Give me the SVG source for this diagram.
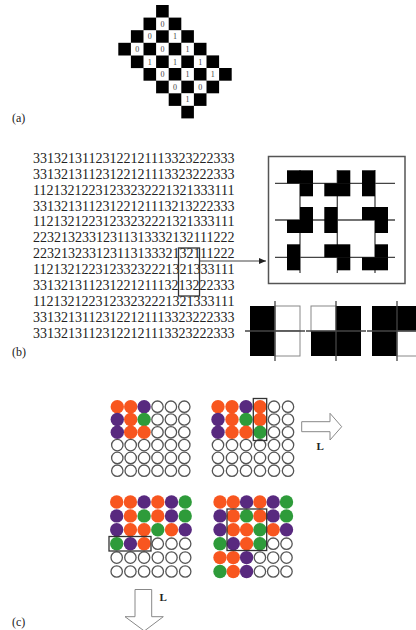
<svg xmlns="http://www.w3.org/2000/svg" width="416" height="630" viewBox="0 0 416 630">
<style>
.lbl{font-family:"Liberation Serif",serif;font-size:12px;fill:#222}
.bit{font-family:"Liberation Serif",serif;font-size:8px;fill:#444;text-anchor:middle}
.seq{font-family:"Liberation Serif",serif;font-size:14px;fill:#222}
.blk{fill:#000}
.wc{fill:#fff}
.ln{stroke:#444;stroke-width:1.3;fill:none}
.frame{stroke:#555;stroke-width:1.5;fill:#fff}
.wq{fill:#fff;stroke:#888;stroke-width:1}
.o{fill:#F8561F}
.p{fill:#58297F}
.g{fill:#2E9B3A}
.e{fill:#fff;stroke:#555;stroke-width:1.3}
.sel{fill:none;stroke:#333;stroke-width:1.3}
.barrow{fill:#fff;stroke:#888;stroke-width:1}
.L{font-family:"Liberation Serif",serif;font-size:11px;font-weight:bold;fill:#222}
</style>
<defs>
<marker id="ah" markerWidth="8" markerHeight="8" refX="7" refY="4" orient="auto" markerUnits="userSpaceOnUse">
<path d="M0,1 L7,4 L0,7 Z" fill="#222"/>
</marker>
<circle id="co" r="6.7" class="o"/>
<circle id="cp" r="6.7" class="p"/>
<circle id="cg" r="6.7" class="g"/>
<circle id="ce" r="5.7" class="e"/>
</defs>

<!-- panel (a) -->
<g id="panel-a">
<g class="blk">
<rect x="156.1" y="5" width="12.6" height="12.7"/>
<rect x="143.5" y="17.6" width="37.8" height="12.7"/>
<rect x="130.9" y="30.2" width="63" height="12.7"/>
<rect x="118.3" y="42.8" width="88.2" height="12.7"/>
<rect x="130.9" y="55.4" width="88.2" height="12.7"/>
<rect x="143.5" y="68" width="88.2" height="12.7"/>
<rect x="156.1" y="80.6" width="63" height="12.7"/>
<rect x="168.7" y="93.2" width="37.8" height="12.7"/>
<rect x="181.3" y="105.8" width="12.6" height="12.6"/>
</g>
<g class="wc">
<rect x="156.1" y="17.6" width="12.6" height="12.6"/>
<rect x="143.5" y="30.2" width="12.6" height="12.6"/>
<rect x="168.7" y="30.2" width="12.6" height="12.6"/>
<rect x="130.9" y="42.8" width="12.6" height="12.6"/>
<rect x="156.1" y="42.8" width="12.6" height="12.6"/>
<rect x="181.3" y="42.8" width="12.6" height="12.6"/>
<rect x="143.5" y="55.4" width="12.6" height="12.6"/>
<rect x="168.7" y="55.4" width="12.6" height="12.6"/>
<rect x="193.9" y="55.4" width="12.6" height="12.6"/>
<rect x="156.1" y="68" width="12.6" height="12.6"/>
<rect x="181.3" y="68" width="12.6" height="12.6"/>
<rect x="206.5" y="68" width="12.6" height="12.6"/>
<rect x="168.7" y="80.6" width="12.6" height="12.6"/>
<rect x="193.9" y="80.6" width="12.6" height="12.6"/>
<rect x="181.3" y="93.2" width="12.6" height="12.6"/>
</g>
<g>
<text class="bit" x="162.4" y="26.8">0</text>
<text class="bit" x="149.8" y="39.4">0</text>
<text class="bit" x="175" y="39.4">1</text>
<text class="bit" x="137.2" y="52">0</text>
<text class="bit" x="162.4" y="52">0</text>
<text class="bit" x="187.6" y="52">1</text>
<text class="bit" x="149.8" y="64.6">1</text>
<text class="bit" x="175" y="64.6">1</text>
<text class="bit" x="200.2" y="64.6">1</text>
<text class="bit" x="162.4" y="77.2">0</text>
<text class="bit" x="187.6" y="77.2">1</text>
<text class="bit" x="212.8" y="77.2">1</text>
<text class="bit" x="175" y="89.8">0</text>
<text class="bit" x="200.2" y="89.8">0</text>
<text class="bit" x="187.6" y="102.4">1</text>
</g>
<text class="lbl" x="12" y="122">(a)</text>
</g>

<!-- panel (b) -->
<g id="panel-b-text">
<text class="seq" x="33" y="162.8">33132131123122121113323222333</text>
<text class="seq" x="33" y="178.7">33132131123122121113323222333</text>
<text class="seq" x="33" y="194.6">11213212231233232221321333111</text>
<text class="seq" x="33" y="210.5">33132131123122121113213222333</text>
<text class="seq" x="33" y="226.4">11213212231233232221321333111</text>
<text class="seq" x="33" y="242.3">22321323312311313332132111222</text>
<text class="seq" x="33" y="258.2">22321323312311313332132111222</text>
<text class="seq" x="33" y="274.1">11213212231233232221321333111</text>
<text class="seq" x="33" y="290">33132131123122121113213222333</text>
<text class="seq" x="33" y="305.9">11213212231233232221321333111</text>
<text class="seq" x="33" y="321.8">33132131123122121113323222333</text>
<text class="seq" x="33" y="337.7">33132131123122121113323222333</text>
<rect class="sel" x="178.5" y="248" width="21" height="48"/>
</g>

<g id="connectors">
<line x1="199.5" y1="261" x2="266" y2="261" stroke="#444" stroke-width="1.2" marker-end="url(#ah)"/>
</g>

<g id="tiling-box">
<rect class="frame" x="268.5" y="156.5" width="136.5" height="127"/>
<g class="ln">
<line x1="275" y1="183.3" x2="395" y2="183.3"/>
<line x1="275" y1="220" x2="395" y2="220"/>
<line x1="275" y1="257.3" x2="395" y2="257.3"/>
<line x1="300" y1="170" x2="300" y2="273"/>
<line x1="337.3" y1="170" x2="337.3" y2="273"/>
<line x1="375" y1="170" x2="375" y2="273"/>
</g>
<g class="blk">
<rect x="287" y="170.3" width="26" height="13"/><rect x="300" y="183.3" width="13" height="13"/>
<rect x="337.3" y="170.3" width="13" height="13"/><rect x="324.3" y="183.3" width="26" height="13"/>
<rect x="362" y="170.3" width="13" height="26"/>
<rect x="300" y="207" width="13" height="13"/><rect x="287" y="220" width="26" height="13"/>
<rect x="324.3" y="207" width="13" height="26"/>
<rect x="362" y="207" width="26" height="13"/><rect x="375" y="220" width="13" height="13"/>
<rect x="287" y="244.3" width="13" height="26"/>
<rect x="324.3" y="244.3" width="26" height="13"/><rect x="337.3" y="257.3" width="13" height="13"/>
<rect x="375" y="244.3" width="13" height="13"/><rect x="362" y="257.3" width="26" height="13"/>
</g>
</g>

<g id="tile-1">
<rect class="blk" x="250" y="306" width="25" height="50"/>
<rect class="wq" x="275" y="306" width="25" height="25"/>
<rect class="wq" x="275" y="331" width="25" height="25"/>
<line class="ln" x1="245" y1="331" x2="305" y2="331"/>
<line class="ln" x1="275" y1="301" x2="275" y2="361"/>
</g>
<g id="tile-2">
<rect class="wq" x="311" y="306" width="25" height="25"/>
<rect class="blk" x="336" y="306" width="25" height="25"/>
<rect class="blk" x="311" y="331" width="50" height="25"/>
<line class="ln" x1="306" y1="331" x2="366" y2="331"/>
<line class="ln" x1="336" y1="301" x2="336" y2="361"/>
</g>
<g id="tile-3">
<rect class="blk" x="372" y="306" width="50" height="25"/>
<rect class="blk" x="372" y="331" width="25" height="25"/>
<rect class="wq" x="397" y="331" width="25" height="25"/>
<line class="ln" x1="367" y1="331" x2="416" y2="331"/>
<line class="ln" x1="397" y1="301" x2="397" y2="361"/>
</g>
<text class="lbl" x="12" y="356">(b)</text>

<!-- panel (c) -->
<g id="grid-1">
<use href="#co" x="117.3" y="406.7"/><use href="#co" x="130.7" y="406.7"/><use href="#cp" x="144.1" y="406.7"/><use href="#ce" x="157.5" y="406.7"/><use href="#ce" x="170.9" y="406.7"/><use href="#ce" x="184.3" y="406.7"/>
<use href="#cp" x="117.3" y="419.5"/><use href="#co" x="130.7" y="419.5"/><use href="#cg" x="144.1" y="419.5"/><use href="#ce" x="157.5" y="419.5"/><use href="#ce" x="170.9" y="419.5"/><use href="#ce" x="184.3" y="419.5"/>
<use href="#cp" x="117.3" y="432.3"/><use href="#co" x="130.7" y="432.3"/><use href="#co" x="144.1" y="432.3"/><use href="#ce" x="157.5" y="432.3"/><use href="#ce" x="170.9" y="432.3"/><use href="#ce" x="184.3" y="432.3"/>
<use href="#ce" x="117.3" y="445.1"/><use href="#ce" x="130.7" y="445.1"/><use href="#ce" x="144.1" y="445.1"/><use href="#ce" x="157.5" y="445.1"/><use href="#ce" x="170.9" y="445.1"/><use href="#ce" x="184.3" y="445.1"/>
<use href="#ce" x="117.3" y="457.9"/><use href="#ce" x="130.7" y="457.9"/><use href="#ce" x="144.1" y="457.9"/><use href="#ce" x="157.5" y="457.9"/><use href="#ce" x="170.9" y="457.9"/><use href="#ce" x="184.3" y="457.9"/>
<use href="#ce" x="117.3" y="470.7"/><use href="#ce" x="130.7" y="470.7"/><use href="#ce" x="144.1" y="470.7"/><use href="#ce" x="157.5" y="470.7"/><use href="#ce" x="170.9" y="470.7"/><use href="#ce" x="184.3" y="470.7"/>
</g>

<g id="grid-2">
<use href="#co" x="218" y="406.7"/><use href="#co" x="232" y="406.7"/><use href="#cp" x="246" y="406.7"/><use href="#co" x="260" y="406.7"/><use href="#ce" x="274" y="406.7"/><use href="#ce" x="288" y="406.7"/>
<use href="#cp" x="218" y="419.5"/><use href="#co" x="232" y="419.5"/><use href="#cg" x="246" y="419.5"/><use href="#co" x="260" y="419.5"/><use href="#ce" x="274" y="419.5"/><use href="#ce" x="288" y="419.5"/>
<use href="#cp" x="218" y="432.3"/><use href="#co" x="232" y="432.3"/><use href="#co" x="246" y="432.3"/><use href="#cg" x="260" y="432.3"/><use href="#ce" x="274" y="432.3"/><use href="#ce" x="288" y="432.3"/>
<use href="#ce" x="218" y="445.1"/><use href="#ce" x="232" y="445.1"/><use href="#ce" x="246" y="445.1"/><use href="#ce" x="260" y="445.1"/><use href="#ce" x="274" y="445.1"/><use href="#ce" x="288" y="445.1"/>
<use href="#ce" x="218" y="457.9"/><use href="#ce" x="232" y="457.9"/><use href="#ce" x="246" y="457.9"/><use href="#ce" x="260" y="457.9"/><use href="#ce" x="274" y="457.9"/><use href="#ce" x="288" y="457.9"/>
<use href="#ce" x="218" y="470.7"/><use href="#ce" x="232" y="470.7"/><use href="#ce" x="246" y="470.7"/><use href="#ce" x="260" y="470.7"/><use href="#ce" x="274" y="470.7"/><use href="#ce" x="288" y="470.7"/>
<rect class="sel" x="253.3" y="398.5" width="13.4" height="42"/>
</g>

<g id="arrow-right">
<path class="barrow" d="M301.7,421.7 H330 V413.3 L341.7,426.7 L330,440 V431.7 H301.7 Z"/>
<text class="L" x="316.5" y="450">L</text>
</g>

<g id="grid-3">
<use href="#co" x="116.7" y="502"/><use href="#co" x="130.4" y="502"/><use href="#cp" x="144.1" y="502"/><use href="#co" x="157.8" y="502"/><use href="#cp" x="171.5" y="502"/><use href="#cg" x="185.2" y="502"/>
<use href="#cp" x="116.7" y="515.9"/><use href="#co" x="130.4" y="515.9"/><use href="#cg" x="144.1" y="515.9"/><use href="#co" x="157.8" y="515.9"/><use href="#cp" x="171.5" y="515.9"/><use href="#cg" x="185.2" y="515.9"/>
<use href="#cp" x="116.7" y="529.8"/><use href="#co" x="130.4" y="529.8"/><use href="#co" x="144.1" y="529.8"/><use href="#cg" x="157.8" y="529.8"/><use href="#co" x="171.5" y="529.8"/><use href="#cp" x="185.2" y="529.8"/>
<use href="#cg" x="116.7" y="543.7"/><use href="#cp" x="130.4" y="543.7"/><use href="#co" x="144.1" y="543.7"/><use href="#ce" x="157.8" y="543.7"/><use href="#ce" x="171.5" y="543.7"/><use href="#ce" x="185.2" y="543.7"/>
<use href="#ce" x="116.7" y="557.6"/><use href="#ce" x="130.4" y="557.6"/><use href="#ce" x="144.1" y="557.6"/><use href="#ce" x="157.8" y="557.6"/><use href="#ce" x="171.5" y="557.6"/><use href="#ce" x="185.2" y="557.6"/>
<use href="#ce" x="116.7" y="571.5"/><use href="#ce" x="130.4" y="571.5"/><use href="#ce" x="144.1" y="571.5"/><use href="#ce" x="157.8" y="571.5"/><use href="#ce" x="171.5" y="571.5"/><use href="#ce" x="185.2" y="571.5"/>
<rect class="sel" x="109" y="536.5" width="42" height="14.5"/>
</g>

<g id="grid-4">
<use href="#co" x="220" y="502"/><use href="#co" x="233.3" y="502"/><use href="#cp" x="246.6" y="502"/><use href="#co" x="259.9" y="502"/><use href="#cp" x="273.2" y="502"/><use href="#cg" x="286.5" y="502"/>
<use href="#cp" x="220" y="515.9"/><use href="#co" x="233.3" y="515.9"/><use href="#cg" x="246.6" y="515.9"/><use href="#co" x="259.9" y="515.9"/><use href="#cp" x="273.2" y="515.9"/><use href="#cg" x="286.5" y="515.9"/>
<use href="#cp" x="220" y="529.8"/><use href="#co" x="233.3" y="529.8"/><use href="#co" x="246.6" y="529.8"/><use href="#cg" x="259.9" y="529.8"/><use href="#co" x="273.2" y="529.8"/><use href="#cp" x="286.5" y="529.8"/>
<use href="#cg" x="220" y="543.7"/><use href="#cp" x="233.3" y="543.7"/><use href="#co" x="246.6" y="543.7"/><use href="#cg" x="259.9" y="543.7"/><use href="#ce" x="273.2" y="543.7"/><use href="#ce" x="286.5" y="543.7"/>
<use href="#co" x="220" y="557.6"/><use href="#co" x="233.3" y="557.6"/><use href="#cp" x="246.6" y="557.6"/><use href="#ce" x="259.9" y="557.6"/><use href="#ce" x="273.2" y="557.6"/><use href="#ce" x="286.5" y="557.6"/>
<use href="#cg" x="220" y="571.5"/><use href="#co" x="233.3" y="571.5"/><use href="#cp" x="246.6" y="571.5"/><use href="#ce" x="259.9" y="571.5"/><use href="#ce" x="273.2" y="571.5"/><use href="#ce" x="286.5" y="571.5"/>
<rect class="sel" x="227" y="509" width="39.7" height="41.5"/>
</g>

<g id="arrow-down">
<path class="barrow" d="M135,589.5 H151.7 V616.7 H163.3 L144.3,631 L125,616.7 H135 Z"/>
<text class="L" x="159.5" y="601">L</text>
</g>
<text class="lbl" x="12" y="626">(c)</text>
</svg>
